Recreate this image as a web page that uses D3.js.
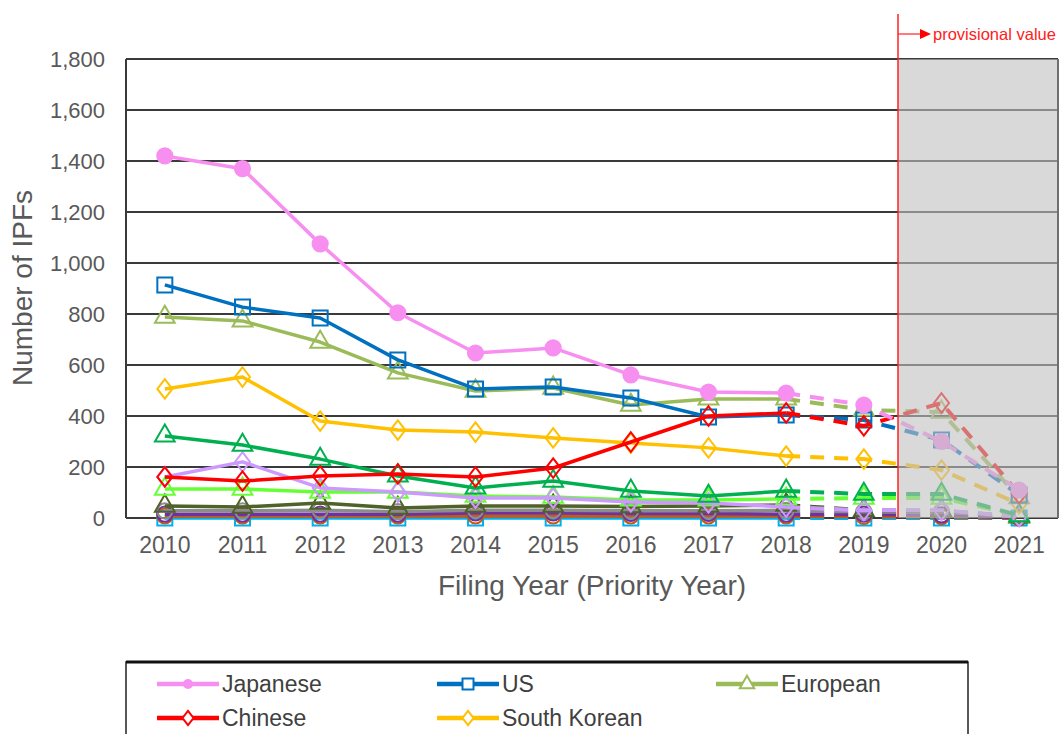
<!DOCTYPE html>
<html><head><meta charset="utf-8">
<script src="https://cdn.jsdelivr.net/npm/d3@7/dist/d3.min.js"></script>
<style>
html,body{margin:0;padding:0;background:#fff;}
svg{display:block;}
</style></head>
<body>
<svg id="c" width="1063" height="734"></svg>
<script>
const years = ["2010","2011","2012","2013","2014","2015","2016","2017","2018","2019","2020","2021"];
const yTicks = [0,200,400,600,800,1000,1200,1400,1600,1800];

const japanese    = [1420,1370,1075,805,647,667,561,494,490,443,300,110];
const us          = [914,827,784,620,506,514,471,396,404,384,306,90];
const european    = [788,773,690,569,498,510,443,467,467,424,415,80];
const chinese     = [161,145,165,173,161,196,298,400,412,361,451,95];
const southKorean = [506,553,380,345,337,314,294,275,243,231,188,55];
const other1      = [322,286,231,165,118,145,106,86,106,94,94,10];
const other2      = [114,114,102,102,86,82,71,71,75,78,78,10];
const other3      = [161,220,118,102,78,78,63,59,43,30,30,5];
const other4      = [47,43,59,39,47,47,45,47,51,30,28,5];
const other5      = [28,28,30,25,30,30,28,28,30,25,25,5];
const other6      = [15,15,15,15,20,20,18,18,15,15,12,3];
const other7      = [8,8,8,8,8,8,8,8,8,6,5,0];
const other8      = [0,0,0,0,0,0,0,0,0,0,0,0];

const series = [
  {name:"other8", values:other8, color:"#00b0f0", marker:"square"},
  {name:"other7", values:other7, color:"#c55a11", marker:"circle-open"},
  {name:"other6", values:other6, color:"#7030a0", marker:"circle-open"},
  {name:"other5", values:other5, color:"#8c8c8c", marker:"circle-open"},
  {name:"other4", values:other4, color:"#4f6228", marker:"triangle"},
  {name:"other2", values:other2, color:"#66ff33", marker:"triangle"},
  {name:"other3", values:other3, color:"#cc99ff", marker:"diamond"},
  {name:"other1", values:other1, color:"#00b050", marker:"triangle"},
  {name:"South Korean", values:southKorean, color:"#ffc000", marker:"diamond"},
  {name:"European", values:european, color:"#9bbb59", marker:"triangle"},
  {name:"US", values:us, color:"#0070c0", marker:"square"},
  {name:"Chinese", values:chinese, color:"#ff0000", marker:"diamond"},
  {name:"Japanese", values:japanese, color:"#f78ff0", marker:"circle"}
];
const legendItems = [
  {name:"Japanese", color:"#f78ff0", marker:"circle"},
  {name:"US", color:"#0070c0", marker:"square"},
  {name:"European", color:"#9bbb59", marker:"triangle"},
  {name:"Chinese", color:"#ff0000", marker:"diamond"},
  {name:"South Korean", color:"#ffc000", marker:"diamond"}
];

const FONT = "Liberation Sans, Arial, sans-serif";
const svg = d3.select("#c");
const L=126, R=1058, T=59, B=518;
const x = d3.scaleBand().domain(years).range([L,R]);
const cx = d => x(d) + x.bandwidth()/2;
const y = d3.scaleLinear().domain([0,1800]).range([B,T]);

// gridlines
svg.append("g").selectAll("line").data(yTicks.filter(t=>t>0)).join("line")
  .attr("x1",L).attr("x2",R).attr("y1",d=>y(d)).attr("y2",d=>y(d))
  .attr("stroke","#3a3a3a").attr("stroke-width",2);
svg.append("line").attr("x1",L).attr("x2",R).attr("y1",B).attr("y2",B)
  .attr("stroke","#3a3a3a").attr("stroke-width",2);
svg.append("line").attr("x1",L).attr("x2",L).attr("y1",T).attr("y2",B)
  .attr("stroke","#3a3a3a").attr("stroke-width",2);

// y axis labels
const yAxis = d3.axisLeft(y).tickValues(yTicks).tickSize(0).tickPadding(21).tickFormat(d3.format(","));
const ya = svg.append("g").attr("transform",`translate(${L},0)`).call(yAxis);
ya.select(".domain").remove();
ya.selectAll("text").attr("font-family",FONT)
  .attr("font-size",22).attr("fill","#595959");

// x axis labels
const xAxis = d3.axisBottom(x).tickSize(0).tickPadding(19);
const xa = svg.append("g").attr("transform",`translate(0,${B})`).call(xAxis);
xa.select(".domain").remove();
xa.selectAll("text").attr("font-family",FONT)
  .attr("font-size",23).attr("fill","#595959");

svg.append("text").attr("transform",`translate(32,${288}) rotate(-90)`)
  .attr("text-anchor","middle").attr("font-family",FONT)
  .attr("font-size",28).attr("fill","#595959").text("Number of IPFs");
svg.append("text").attr("x",592).attr("y",595).attr("text-anchor","middle")
  .attr("font-family",FONT)
  .attr("font-size",28).attr("fill","#595959").text("Filing Year (Priority Year)");

function markerPath(type, s){
  if(type==="square") return d3.symbol(d3.symbolSquare, s*s)();
  if(type==="triangle") return d3.symbol(d3.symbolTriangle, s*s*0.75)();
  if(type==="diamond") return `M0,${-s*0.65}L${s*0.5},0L0,${s*0.65}L${-s*0.5},0Z`;
  return d3.symbol(d3.symbolCircle, s*s*0.8)();
}
function drawMarker(g, type, color, px, py){
  const filled = type==="circle";
  g.append("path").attr("d", markerPath(type, type==="circle"?15:15))
    .attr("transform",`translate(${px},${py})`)
    .attr("fill", filled?color:"none")
    .attr("stroke",color).attr("stroke-width",2);
}

const line = d3.line().x(d=>cx(d.year)).y(d=>y(d.v));
const plot = svg.append("g");
series.forEach(s=>{
  const pts = years.map((yr,i)=>({year:yr, v:s.values[i]}));
  plot.append("path").attr("d", line(pts.slice(0,9)))
    .attr("fill","none").attr("stroke",s.color).attr("stroke-width",3.5).attr("stroke-linejoin","round");
  plot.append("path").attr("d", line(pts.slice(8)))
    .attr("fill","none").attr("stroke",s.color).attr("stroke-width",4)
    .attr("stroke-dasharray","14,10");
  pts.forEach(p=>drawMarker(plot, s.marker, s.color, cx(p.year), y(p.v)));
});

// provisional region overlay
const px0 = 898;
svg.append("rect").attr("x",px0).attr("y",T).attr("width",R-px0).attr("height",B-T)
  .attr("fill","#c0c0c0").attr("fill-opacity",0.6);
svg.append("line").attr("x1",R).attr("x2",R).attr("y1",T).attr("y2",B)
  .attr("stroke","#707070").attr("stroke-width",2);
svg.append("line").attr("x1",px0).attr("x2",px0).attr("y1",14).attr("y2",B)
  .attr("stroke","#ff2020").attr("stroke-width",1.5);
svg.append("line").attr("x1",px0).attr("x2",922).attr("y1",34).attr("y2",34)
  .attr("stroke","#ff2020").attr("stroke-width",1.2);
svg.append("path").attr("d","M920,29L931,34L920,39Z").attr("fill","#ff0000");
svg.append("text").attr("x",933).attr("y",40).attr("font-family",FONT)
  .attr("font-size",16.5).attr("fill","#ff2020").text("provisional value");

// legend
const lg = svg.append("g");
lg.append("rect").attr("x",126).attr("y",662).attr("width",842).attr("height",90)
  .attr("fill","#fff").attr("stroke","#222").attr("stroke-width",1.5);
lg.append("line").attr("x1",126).attr("x2",968).attr("y1",662).attr("y2",662)
  .attr("stroke","#111").attr("stroke-width",3);
const colX = [157, 437, 716];
legendItems.forEach((d,i)=>{
  const col = i%3, row = Math.floor(i/3);
  const lx = colX[col], ly = 684 + row*34;
  lg.append("line").attr("x1",lx).attr("x2",lx+62).attr("y1",ly).attr("y2",ly)
    .attr("stroke",d.color).attr("stroke-width",4.5);
  const g = lg.append("g");
  if(d.marker==="circle") g.append("circle").attr("cx",lx+31).attr("cy",ly).attr("r",5).attr("fill",d.color);
  else g.append("path").attr("d",markerPath(d.marker,11)).attr("transform",`translate(${lx+31},${ly})`)
    .attr("fill","#fff").attr("stroke",d.color).attr("stroke-width",2);
  lg.append("text").attr("x",lx+65).attr("y",ly+8)
    .attr("font-family",FONT)
    .attr("font-size",23).attr("fill","#404040").text(d.name);
});
</script>
</body></html>
